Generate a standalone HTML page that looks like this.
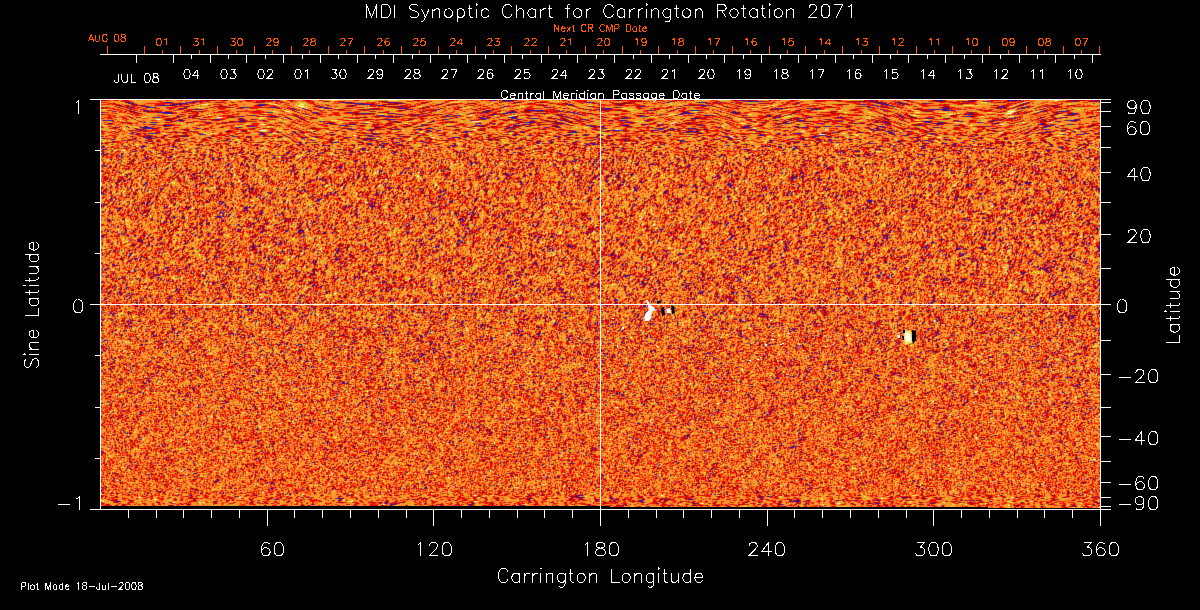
<!DOCTYPE html>
<html><head><meta charset="utf-8"><style>
html,body{margin:0;padding:0;background:#000;font-family:"Liberation Sans",sans-serif;width:1200px;height:610px;overflow:hidden}
#plot{position:absolute;left:101px;top:100px;width:999px;height:406px;background:#e75a25}
canvas{position:absolute;left:101px;top:100px}
</style></head><body>
<div id="plot"></div>
<canvas id="cv" width="999" height="408"></canvas>
<svg width="1200" height="610" viewBox="0 0 1200 610" style="position:absolute;left:0;top:0"><g fill="#e8e060"><polygon points="903,331 911,330 913,343 905,345"/></g><g fill="#fff"><polygon points="646,300 648,300 650,305 654,307 655,310 652,312 651,318 649,321 645,321 644,317 646,313 649,310 648,306"/></g><g fill="#000"><polygon points="657,301 660,301 661,303 657,304"/></g><g fill="#000"><polygon points="661,308 664,307 665,315 662,316"/></g><g fill="#fff"><polygon points="666,309 670,308 671,313 667,313"/></g><g fill="#000"><polygon points="671,305 674,306 675,313 672,314"/></g><g fill="#fff"><polygon points="905,332 910,333 911,341 906,342"/></g><g fill="#fff"><polygon points="897,335 900,335 900,338 898,338"/></g><g fill="#000"><polygon points="912,330 916,331 916,340 913,344 912,340"/></g><g fill="#000"><polygon points="903,330 905,330 905,333 903,333"/></g><g fill="#000"><polygon points="902,336 904,336 904,340 903,340"/></g><g fill="#fff"><rect x="771" y="339" width="3" height="1"/></g><g fill="#fffff0"><rect x="780" y="344" width="2" height="1"/></g><g fill="#fffff0"><rect x="782" y="343" width="2" height="1"/></g><g fill="#fff"><rect x="765" y="344" width="2" height="2"/></g><g fill="#fff"><rect x="749" y="360" width="2" height="1"/></g><g fill="#fff"><rect x="757" y="359" width="2" height="1"/></g><g fill="#ffffa0"><rect x="772" y="333" width="2" height="1"/></g><g fill="#e0e040"><rect x="778" y="334" width="2" height="2"/></g><g fill="#fff"><rect x="770" y="320" width="2" height="1"/></g><g fill="#fff"><rect x="788" y="333" width="2" height="1"/></g><g fill="#ffffa0"><rect x="612" y="318" width="2" height="1"/></g><g fill="#fff"><rect x="622" y="327" width="2" height="2"/></g><g fill="#ffffa0"><rect x="630" y="337" width="2" height="1"/></g><g fill="#fff"><rect x="617" y="345" width="1" height="2"/></g><g fill="#e0e040"><rect x="640" y="330" width="2" height="1"/></g><g fill="#fff"><rect x="607" y="331" width="2" height="1"/></g><g shape-rendering="crispEdges"><rect x="90" y="99" width="1021" height="1" fill="#fff"/><rect x="90" y="509" width="1021" height="1" fill="#fff"/><rect x="100" y="99" width="1" height="411" fill="#fff"/><rect x="1100" y="99" width="1" height="427" fill="#fff"/><rect x="95" y="150" width="5" height="1" fill="#fff"/><rect x="95" y="202" width="5" height="1" fill="#fff"/><rect x="95" y="253" width="5" height="1" fill="#fff"/><rect x="95" y="355" width="5" height="1" fill="#fff"/><rect x="95" y="407" width="5" height="1" fill="#fff"/><rect x="95" y="458" width="5" height="1" fill="#fff"/><rect x="90" y="304" width="10" height="1" fill="#fff"/><rect x="1101" y="506" width="10" height="1" fill="#fff"/><rect x="1101" y="497" width="10" height="1" fill="#fff"/><rect x="1101" y="482" width="10" height="1" fill="#fff"/><rect x="1101" y="461" width="10" height="1" fill="#fff"/><rect x="1101" y="436" width="10" height="1" fill="#fff"/><rect x="1101" y="407" width="10" height="1" fill="#fff"/><rect x="1101" y="374" width="10" height="1" fill="#fff"/><rect x="1101" y="340" width="10" height="1" fill="#fff"/><rect x="1101" y="304" width="10" height="1" fill="#fff"/><rect x="1101" y="268" width="10" height="1" fill="#fff"/><rect x="1101" y="234" width="10" height="1" fill="#fff"/><rect x="1101" y="202" width="10" height="1" fill="#fff"/><rect x="1101" y="172" width="10" height="1" fill="#fff"/><rect x="1101" y="147" width="10" height="1" fill="#fff"/><rect x="1101" y="126" width="10" height="1" fill="#fff"/><rect x="1101" y="111" width="10" height="1" fill="#fff"/><rect x="1101" y="102" width="10" height="1" fill="#fff"/><rect x="128" y="510" width="1" height="8" fill="#fff"/><rect x="156" y="510" width="1" height="8" fill="#fff"/><rect x="183" y="510" width="1" height="8" fill="#fff"/><rect x="211" y="510" width="1" height="8" fill="#fff"/><rect x="239" y="510" width="1" height="8" fill="#fff"/><rect x="267" y="510" width="1" height="16" fill="#fff"/><rect x="294" y="510" width="1" height="8" fill="#fff"/><rect x="322" y="510" width="1" height="8" fill="#fff"/><rect x="350" y="510" width="1" height="8" fill="#fff"/><rect x="378" y="510" width="1" height="8" fill="#fff"/><rect x="406" y="510" width="1" height="8" fill="#fff"/><rect x="433" y="510" width="1" height="16" fill="#fff"/><rect x="461" y="510" width="1" height="8" fill="#fff"/><rect x="489" y="510" width="1" height="8" fill="#fff"/><rect x="517" y="510" width="1" height="8" fill="#fff"/><rect x="544" y="510" width="1" height="8" fill="#fff"/><rect x="572" y="510" width="1" height="8" fill="#fff"/><rect x="600" y="510" width="1" height="16" fill="#fff"/><rect x="628" y="510" width="1" height="8" fill="#fff"/><rect x="656" y="510" width="1" height="8" fill="#fff"/><rect x="683" y="510" width="1" height="8" fill="#fff"/><rect x="711" y="510" width="1" height="8" fill="#fff"/><rect x="739" y="510" width="1" height="8" fill="#fff"/><rect x="767" y="510" width="1" height="16" fill="#fff"/><rect x="794" y="510" width="1" height="8" fill="#fff"/><rect x="822" y="510" width="1" height="8" fill="#fff"/><rect x="850" y="510" width="1" height="8" fill="#fff"/><rect x="878" y="510" width="1" height="8" fill="#fff"/><rect x="906" y="510" width="1" height="8" fill="#fff"/><rect x="933" y="510" width="1" height="16" fill="#fff"/><rect x="961" y="510" width="1" height="8" fill="#fff"/><rect x="989" y="510" width="1" height="8" fill="#fff"/><rect x="1017" y="510" width="1" height="8" fill="#fff"/><rect x="1044" y="510" width="1" height="8" fill="#fff"/><rect x="1072" y="510" width="1" height="8" fill="#fff"/><rect x="600" y="100" width="1" height="409" fill="#fff"/><rect x="101" y="304" width="999" height="1" fill="#fff"/><rect x="100" y="54" width="1001" height="1" fill="#fff"/><rect x="136" y="55" width="1" height="8" fill="#fff"/><rect x="173" y="55" width="1" height="8" fill="#fff"/><rect x="210" y="55" width="1" height="8" fill="#fff"/><rect x="246" y="55" width="1" height="8" fill="#fff"/><rect x="283" y="55" width="1" height="8" fill="#fff"/><rect x="320" y="55" width="1" height="8" fill="#fff"/><rect x="357" y="55" width="1" height="8" fill="#fff"/><rect x="393" y="55" width="1" height="8" fill="#fff"/><rect x="430" y="55" width="1" height="8" fill="#fff"/><rect x="467" y="55" width="1" height="8" fill="#fff"/><rect x="504" y="55" width="1" height="8" fill="#fff"/><rect x="541" y="55" width="1" height="8" fill="#fff"/><rect x="577" y="55" width="1" height="8" fill="#fff"/><rect x="614" y="55" width="1" height="8" fill="#fff"/><rect x="651" y="55" width="1" height="8" fill="#fff"/><rect x="688" y="55" width="1" height="8" fill="#fff"/><rect x="724" y="55" width="1" height="8" fill="#fff"/><rect x="761" y="55" width="1" height="8" fill="#fff"/><rect x="798" y="55" width="1" height="8" fill="#fff"/><rect x="835" y="55" width="1" height="8" fill="#fff"/><rect x="872" y="55" width="1" height="8" fill="#fff"/><rect x="908" y="55" width="1" height="8" fill="#fff"/><rect x="945" y="55" width="1" height="8" fill="#fff"/><rect x="982" y="55" width="1" height="8" fill="#fff"/><rect x="1019" y="55" width="1" height="8" fill="#fff"/><rect x="1055" y="55" width="1" height="8" fill="#fff"/><rect x="1092" y="55" width="1" height="8" fill="#fff"/><rect x="191" y="55" width="1" height="4" fill="#fff"/><rect x="228" y="55" width="1" height="4" fill="#fff"/><rect x="265" y="55" width="1" height="4" fill="#fff"/><rect x="302" y="55" width="1" height="4" fill="#fff"/><rect x="338" y="55" width="1" height="4" fill="#fff"/><rect x="375" y="55" width="1" height="4" fill="#fff"/><rect x="412" y="55" width="1" height="4" fill="#fff"/><rect x="449" y="55" width="1" height="4" fill="#fff"/><rect x="485" y="55" width="1" height="4" fill="#fff"/><rect x="522" y="55" width="1" height="4" fill="#fff"/><rect x="559" y="55" width="1" height="4" fill="#fff"/><rect x="596" y="55" width="1" height="4" fill="#fff"/><rect x="633" y="55" width="1" height="4" fill="#fff"/><rect x="669" y="55" width="1" height="4" fill="#fff"/><rect x="706" y="55" width="1" height="4" fill="#fff"/><rect x="743" y="55" width="1" height="4" fill="#fff"/><rect x="780" y="55" width="1" height="4" fill="#fff"/><rect x="816" y="55" width="1" height="4" fill="#fff"/><rect x="853" y="55" width="1" height="4" fill="#fff"/><rect x="890" y="55" width="1" height="4" fill="#fff"/><rect x="927" y="55" width="1" height="4" fill="#fff"/><rect x="964" y="55" width="1" height="4" fill="#fff"/><rect x="1000" y="55" width="1" height="4" fill="#fff"/><rect x="1037" y="55" width="1" height="4" fill="#fff"/><rect x="1074" y="55" width="1" height="4" fill="#fff"/><rect x="107" y="46" width="1" height="8" fill="#ff5500"/><rect x="144" y="46" width="1" height="8" fill="#ff5500"/><rect x="180" y="46" width="1" height="8" fill="#ff5500"/><rect x="217" y="46" width="1" height="8" fill="#ff5500"/><rect x="254" y="46" width="1" height="8" fill="#ff5500"/><rect x="291" y="46" width="1" height="8" fill="#ff5500"/><rect x="328" y="46" width="1" height="8" fill="#ff5500"/><rect x="364" y="46" width="1" height="8" fill="#ff5500"/><rect x="401" y="46" width="1" height="8" fill="#ff5500"/><rect x="438" y="46" width="1" height="8" fill="#ff5500"/><rect x="475" y="46" width="1" height="8" fill="#ff5500"/><rect x="511" y="46" width="1" height="8" fill="#ff5500"/><rect x="548" y="46" width="1" height="8" fill="#ff5500"/><rect x="585" y="46" width="1" height="8" fill="#ff5500"/><rect x="622" y="46" width="1" height="8" fill="#ff5500"/><rect x="658" y="46" width="1" height="8" fill="#ff5500"/><rect x="695" y="46" width="1" height="8" fill="#ff5500"/><rect x="732" y="46" width="1" height="8" fill="#ff5500"/><rect x="769" y="46" width="1" height="8" fill="#ff5500"/><rect x="805" y="46" width="1" height="8" fill="#ff5500"/><rect x="842" y="46" width="1" height="8" fill="#ff5500"/><rect x="879" y="46" width="1" height="8" fill="#ff5500"/><rect x="916" y="46" width="1" height="8" fill="#ff5500"/><rect x="952" y="46" width="1" height="8" fill="#ff5500"/><rect x="989" y="46" width="1" height="8" fill="#ff5500"/><rect x="1026" y="46" width="1" height="8" fill="#ff5500"/><rect x="1063" y="46" width="1" height="8" fill="#ff5500"/><rect x="1099" y="46" width="1" height="8" fill="#ff5500"/><rect x="162" y="50" width="1" height="4" fill="#ff5500"/><rect x="199" y="50" width="1" height="4" fill="#ff5500"/><rect x="236" y="50" width="1" height="4" fill="#ff5500"/><rect x="272" y="50" width="1" height="4" fill="#ff5500"/><rect x="309" y="50" width="1" height="4" fill="#ff5500"/><rect x="346" y="50" width="1" height="4" fill="#ff5500"/><rect x="383" y="50" width="1" height="4" fill="#ff5500"/><rect x="419" y="50" width="1" height="4" fill="#ff5500"/><rect x="456" y="50" width="1" height="4" fill="#ff5500"/><rect x="493" y="50" width="1" height="4" fill="#ff5500"/><rect x="530" y="50" width="1" height="4" fill="#ff5500"/><rect x="566" y="50" width="1" height="4" fill="#ff5500"/><rect x="603" y="50" width="1" height="4" fill="#ff5500"/><rect x="640" y="50" width="1" height="4" fill="#ff5500"/><rect x="677" y="50" width="1" height="4" fill="#ff5500"/><rect x="713" y="50" width="1" height="4" fill="#ff5500"/><rect x="750" y="50" width="1" height="4" fill="#ff5500"/><rect x="787" y="50" width="1" height="4" fill="#ff5500"/><rect x="824" y="50" width="1" height="4" fill="#ff5500"/><rect x="861" y="50" width="1" height="4" fill="#ff5500"/><rect x="897" y="50" width="1" height="4" fill="#ff5500"/><rect x="934" y="50" width="1" height="4" fill="#ff5500"/><rect x="971" y="50" width="1" height="4" fill="#ff5500"/><rect x="1008" y="50" width="1" height="4" fill="#ff5500"/><rect x="1044" y="50" width="1" height="4" fill="#ff5500"/><rect x="1081" y="50" width="1" height="4" fill="#ff5500"/></g><g fill="none" stroke-width="1" shape-rendering="crispEdges"><path stroke="#fff" d="M366.50,4.50 366.50,17.50M366.50,4.50 371.57,17.50M376.63,4.50 371.57,17.50M376.63,4.50 376.63,17.50M381.70,4.50 381.70,17.50M381.70,4.50 386.13,4.50 388.03,5.12 389.29,6.36 389.93,7.60 390.56,9.45 390.56,12.55 389.93,14.40 389.29,15.64 388.03,16.88 386.13,17.50 381.70,17.50M394.99,4.50 394.99,17.50M418.42,6.36 417.15,5.12 415.25,4.50 412.72,4.50 410.82,5.12 409.55,6.36 409.55,7.60 410.19,8.83 410.82,9.45 412.09,10.07 415.89,11.31 417.15,11.93 417.79,12.55 418.42,13.79 418.42,15.64 417.15,16.88 415.25,17.50 412.72,17.50 410.82,16.88 409.55,15.64M421.58,8.83 425.38,17.50M429.18,8.83 425.38,17.50 424.12,19.98 422.85,21.21 421.58,21.83 420.95,21.83M432.98,8.83 432.98,17.50M432.98,11.31 434.88,9.45 436.15,8.83 438.05,8.83 439.31,9.45 439.95,11.31 439.95,17.50M447.54,8.83 446.28,9.45 445.01,10.69 444.38,12.55 444.38,13.79 445.01,15.64 446.28,16.88 447.54,17.50 449.44,17.50 450.71,16.88 451.98,15.64 452.61,13.79 452.61,12.55 451.98,10.69 450.71,9.45 449.44,8.83 447.54,8.83M457.04,8.83 457.04,21.83M457.04,10.69 458.31,9.45 459.57,8.83 461.47,8.83 462.74,9.45 464.01,10.69 464.64,12.55 464.64,13.79 464.01,15.64 462.74,16.88 461.47,17.50 459.57,17.50 458.31,16.88 457.04,15.64M469.70,4.50 469.70,15.02 470.34,16.88 471.60,17.50 472.87,17.50M467.81,8.83 472.24,8.83M476.04,4.50 476.67,5.12 477.30,4.50 476.67,3.88 476.04,4.50M476.67,8.83 476.67,17.50M488.70,10.69 487.43,9.45 486.17,8.83 484.27,8.83 483.00,9.45 481.73,10.69 481.10,12.55 481.10,13.79 481.73,15.64 483.00,16.88 484.27,17.50 486.17,17.50 487.43,16.88 488.70,15.64M512.13,7.60 511.49,6.36 510.23,5.12 508.96,4.50 506.43,4.50 505.16,5.12 503.90,6.36 503.26,7.60 502.63,9.45 502.63,12.55 503.26,14.40 503.90,15.64 505.16,16.88 506.43,17.50 508.96,17.50 510.23,16.88 511.49,15.64 512.13,14.40M516.56,4.50 516.56,17.50M516.56,11.31 518.46,9.45 519.72,8.83 521.62,8.83 522.89,9.45 523.52,11.31 523.52,17.50M535.55,8.83 535.55,17.50M535.55,10.69 534.29,9.45 533.02,8.83 531.12,8.83 529.86,9.45 528.59,10.69 527.96,12.55 527.96,13.79 528.59,15.64 529.86,16.88 531.12,17.50 533.02,17.50 534.29,16.88 535.55,15.64M540.62,8.83 540.62,17.50M540.62,12.55 541.25,10.69 542.52,9.45 543.78,8.83 545.68,8.83M549.48,4.50 549.48,15.02 550.12,16.88 551.38,17.50 552.65,17.50M547.58,8.83 552.02,8.83M570.38,4.50 569.11,4.50 567.84,5.12 567.21,6.98 567.21,17.50M565.31,8.83 569.74,8.83M576.71,8.83 575.44,9.45 574.18,10.69 573.54,12.55 573.54,13.79 574.18,15.64 575.44,16.88 576.71,17.50 578.61,17.50 579.87,16.88 581.14,15.64 581.77,13.79 581.77,12.55 581.14,10.69 579.87,9.45 578.61,8.83 576.71,8.83M586.21,8.83 586.21,17.50M586.21,12.55 586.84,10.69 588.11,9.45 589.37,8.83 591.27,8.83M613.43,7.60 612.80,6.36 611.53,5.12 610.27,4.50 607.73,4.50 606.47,5.12 605.20,6.36 604.57,7.60 603.93,9.45 603.93,12.55 604.57,14.40 605.20,15.64 606.47,16.88 607.73,17.50 610.27,17.50 611.53,16.88 612.80,15.64 613.43,14.40M624.83,8.83 624.83,17.50M624.83,10.69 623.56,9.45 622.30,8.83 620.40,8.83 619.13,9.45 617.86,10.69 617.23,12.55 617.23,13.79 617.86,15.64 619.13,16.88 620.40,17.50 622.30,17.50 623.56,16.88 624.83,15.64M629.89,8.83 629.89,17.50M629.89,12.55 630.53,10.69 631.79,9.45 633.06,8.83 634.96,8.83M638.13,8.83 638.13,17.50M638.13,12.55 638.76,10.69 640.02,9.45 641.29,8.83 643.19,8.83M645.72,4.50 646.36,5.12 646.99,4.50 646.36,3.88 645.72,4.50M646.36,8.83 646.36,17.50M651.42,8.83 651.42,17.50M651.42,11.31 653.32,9.45 654.59,8.83 656.49,8.83 657.75,9.45 658.39,11.31 658.39,17.50M670.42,8.83 670.42,18.74 669.78,20.60 669.15,21.21 667.88,21.83 665.98,21.83 664.72,21.21M670.42,10.69 669.15,9.45 667.88,8.83 665.98,8.83 664.72,9.45 663.45,10.69 662.82,12.55 662.82,13.79 663.45,15.64 664.72,16.88 665.98,17.50 667.88,17.50 669.15,16.88 670.42,15.64M676.11,4.50 676.11,15.02 676.75,16.88 678.01,17.50 679.28,17.50M674.22,8.83 678.65,8.83M685.61,8.83 684.35,9.45 683.08,10.69 682.45,12.55 682.45,13.79 683.08,15.64 684.35,16.88 685.61,17.50 687.51,17.50 688.78,16.88 690.04,15.64 690.68,13.79 690.68,12.55 690.04,10.69 688.78,9.45 687.51,8.83 685.61,8.83M695.11,8.83 695.11,17.50M695.11,11.31 697.01,9.45 698.28,8.83 700.17,8.83 701.44,9.45 702.07,11.31 702.07,17.50M717.27,4.50 717.27,17.50M717.27,4.50 722.97,4.50 724.87,5.12 725.50,5.74 726.13,6.98 726.13,8.21 725.50,9.45 724.87,10.07 722.97,10.69 717.27,10.69M721.70,10.69 726.13,17.50M733.10,8.83 731.83,9.45 730.57,10.69 729.93,12.55 729.93,13.79 730.57,15.64 731.83,16.88 733.10,17.50 735.00,17.50 736.27,16.88 737.53,15.64 738.16,13.79 738.16,12.55 737.53,10.69 736.27,9.45 735.00,8.83 733.10,8.83M743.23,4.50 743.23,15.02 743.86,16.88 745.13,17.50 746.40,17.50M741.33,8.83 745.76,8.83M757.16,8.83 757.16,17.50M757.16,10.69 755.89,9.45 754.63,8.83 752.73,8.83 751.46,9.45 750.19,10.69 749.56,12.55 749.56,13.79 750.19,15.64 751.46,16.88 752.73,17.50 754.63,17.50 755.89,16.88 757.16,15.64M762.86,4.50 762.86,15.02 763.49,16.88 764.76,17.50 766.02,17.50M760.96,8.83 765.39,8.83M769.19,4.50 769.82,5.12 770.46,4.50 769.82,3.88 769.19,4.50M769.82,8.83 769.82,17.50M777.42,8.83 776.15,9.45 774.89,10.69 774.25,12.55 774.25,13.79 774.89,15.64 776.15,16.88 777.42,17.50 779.32,17.50 780.59,16.88 781.85,15.64 782.49,13.79 782.49,12.55 781.85,10.69 780.59,9.45 779.32,8.83 777.42,8.83M786.92,8.83 786.92,17.50M786.92,11.31 788.82,9.45 790.08,8.83 791.98,8.83 793.25,9.45 793.88,11.31 793.88,17.50M809.08,7.60 809.08,6.98 809.71,5.74 810.34,5.12 811.61,4.50 814.14,4.50 815.41,5.12 816.04,5.74 816.68,6.98 816.68,8.21 816.04,9.45 814.78,11.31 808.45,17.50 817.31,17.50M824.91,4.50 823.01,5.12 821.74,6.98 821.11,10.07 821.11,11.93 821.74,15.02 823.01,16.88 824.91,17.50 826.17,17.50 828.07,16.88 829.34,15.02 829.97,11.93 829.97,10.07 829.34,6.98 828.07,5.12 826.17,4.50 824.91,4.50M842.64,4.50 836.30,17.50M833.77,4.50 842.64,4.50M848.33,6.98 849.60,6.36 851.50,4.50 851.50,17.50"/><path stroke="#fff" d="M508.00,571.83 507.37,570.50 506.10,569.17 504.84,568.50 502.30,568.50 501.03,569.17 499.77,570.50 499.13,571.83 498.50,573.83 498.50,577.17 499.13,579.17 499.77,580.50 501.03,581.83 502.30,582.50 504.84,582.50 506.10,581.83 507.37,580.50 508.00,579.17M519.41,573.17 519.41,582.50M519.41,575.17 518.14,573.83 516.87,573.17 514.97,573.17 513.70,573.83 512.44,575.17 511.80,577.17 511.80,578.50 512.44,580.50 513.70,581.83 514.97,582.50 516.87,582.50 518.14,581.83 519.41,580.50M524.48,573.17 524.48,582.50M524.48,577.17 525.11,575.17 526.38,573.83 527.64,573.17 529.54,573.17M532.71,573.17 532.71,582.50M532.71,577.17 533.34,575.17 534.61,573.83 535.88,573.17 537.78,573.17M540.31,568.50 540.95,569.17 541.58,568.50 540.95,567.83 540.31,568.50M540.95,573.17 540.95,582.50M546.02,573.17 546.02,582.50M546.02,575.83 547.92,573.83 549.18,573.17 551.08,573.17 552.35,573.83 552.98,575.83 552.98,582.50M565.02,573.17 565.02,583.83 564.39,585.83 563.75,586.50 562.49,587.17 560.59,587.17 559.32,586.50M565.02,575.17 563.75,573.83 562.49,573.17 560.59,573.17 559.32,573.83 558.05,575.17 557.42,577.17 557.42,578.50 558.05,580.50 559.32,581.83 560.59,582.50 562.49,582.50 563.75,581.83 565.02,580.50M570.72,568.50 570.72,579.83 571.36,581.83 572.62,582.50 573.89,582.50M568.82,573.17 573.26,573.17M580.23,573.17 578.96,573.83 577.69,575.17 577.06,577.17 577.06,578.50 577.69,580.50 578.96,581.83 580.23,582.50 582.13,582.50 583.39,581.83 584.66,580.50 585.30,578.50 585.30,577.17 584.66,575.17 583.39,573.83 582.13,573.17 580.23,573.17M589.73,573.17 589.73,582.50M589.73,575.83 591.63,573.83 592.90,573.17 594.80,573.17 596.07,573.83 596.70,575.83 596.70,582.50M611.90,568.50 611.90,582.50M611.90,582.50 619.51,582.50M625.21,573.17 623.94,573.83 622.67,575.17 622.04,577.17 622.04,578.50 622.67,580.50 623.94,581.83 625.21,582.50 627.11,582.50 628.38,581.83 629.64,580.50 630.28,578.50 630.28,577.17 629.64,575.17 628.38,573.83 627.11,573.17 625.21,573.17M634.71,573.17 634.71,582.50M634.71,575.83 636.61,573.83 637.88,573.17 639.78,573.17 641.05,573.83 641.68,575.83 641.68,582.50M653.72,573.17 653.72,583.83 653.08,585.83 652.45,586.50 651.18,587.17 649.28,587.17 648.02,586.50M653.72,575.17 652.45,573.83 651.18,573.17 649.28,573.17 648.02,573.83 646.75,575.17 646.11,577.17 646.11,578.50 646.75,580.50 648.02,581.83 649.28,582.50 651.18,582.50 652.45,581.83 653.72,580.50M658.15,568.50 658.79,569.17 659.42,568.50 658.79,567.83 658.15,568.50M658.79,573.17 658.79,582.50M664.49,568.50 664.49,579.83 665.12,581.83 666.39,582.50 667.66,582.50M662.59,573.17 667.02,573.17M671.46,573.17 671.46,579.83 672.09,581.83 673.36,582.50 675.26,582.50 676.52,581.83 678.43,579.83M678.43,573.17 678.43,582.50M690.46,568.50 690.46,582.50M690.46,575.17 689.20,573.83 687.93,573.17 686.03,573.17 684.76,573.83 683.49,575.17 682.86,577.17 682.86,578.50 683.49,580.50 684.76,581.83 686.03,582.50 687.93,582.50 689.20,581.83 690.46,580.50M694.90,577.17 702.50,577.17 702.50,575.83 701.87,574.50 701.23,573.83 699.97,573.17 698.07,573.17 696.80,573.83 695.53,575.17 694.90,577.17 694.90,578.50 695.53,580.50 696.80,581.83 698.07,582.50 699.97,582.50 701.23,581.83 702.50,580.50"/><path stroke="#fff" d="M26.50,358.71 25.17,359.96 24.50,361.85 24.50,364.36 25.17,366.24 26.50,367.50 27.83,367.50 29.17,366.87 29.83,366.24 30.50,364.99 31.83,361.22 32.50,359.96 33.17,359.33 34.50,358.71 36.50,358.71 37.83,359.96 38.50,361.85 38.50,364.36 37.83,366.24 36.50,367.50M24.50,354.94 25.17,354.31 24.50,353.68 23.83,354.31 24.50,354.94M29.17,354.31 38.50,354.31M29.17,349.28 38.50,349.28M31.83,349.28 29.83,347.40 29.17,346.14 29.17,344.26 29.83,343.00 31.83,342.37 38.50,342.37M33.17,337.98 33.17,330.44 31.83,330.44 30.50,331.07 29.83,331.70 29.17,332.95 29.17,334.84 29.83,336.09 31.17,337.35 33.17,337.98 34.50,337.98 36.50,337.35 37.83,336.09 38.50,334.84 38.50,332.95 37.83,331.70 36.50,330.44M24.50,315.99 38.50,315.99M38.50,315.99 38.50,308.45M29.17,298.40 38.50,298.40M31.17,298.40 29.83,299.66 29.17,300.92 29.17,302.80 29.83,304.06 31.17,305.31 33.17,305.94 34.50,305.94 36.50,305.31 37.83,304.06 38.50,302.80 38.50,300.92 37.83,299.66 36.50,298.40M24.50,292.75 35.83,292.75 37.83,292.12 38.50,290.87 38.50,289.61M29.17,294.64 29.17,290.24M24.50,286.47 25.17,285.84 24.50,285.21 23.83,285.84 24.50,286.47M29.17,285.84 38.50,285.84M24.50,280.19 35.83,280.19 37.83,279.56 38.50,278.30 38.50,277.05M29.17,282.07 29.17,277.68M29.17,273.28 35.83,273.28 37.83,272.65 38.50,271.39 38.50,269.51 37.83,268.25 35.83,266.37M29.17,266.37 38.50,266.37M24.50,254.43 38.50,254.43M31.17,254.43 29.83,255.69 29.17,256.95 29.17,258.83 29.83,260.09 31.17,261.34 33.17,261.97 34.50,261.97 36.50,261.34 37.83,260.09 38.50,258.83 38.50,256.95 37.83,255.69 36.50,254.43M33.17,250.04 33.17,242.50 31.83,242.50 30.50,243.13 29.83,243.76 29.17,245.01 29.17,246.90 29.83,248.15 31.17,249.41 33.17,250.04 34.50,250.04 36.50,249.41 37.83,248.15 38.50,246.90 38.50,245.01 37.83,243.76 36.50,242.50"/><path stroke="#fff" d="M1165.50,342.50 1179.50,342.50M1179.50,342.50 1179.50,334.81M1170.17,324.55 1179.50,324.55M1172.17,324.55 1170.83,325.83 1170.17,327.12 1170.17,329.04 1170.83,330.32 1172.17,331.60 1174.17,332.24 1175.50,332.24 1177.50,331.60 1178.83,330.32 1179.50,329.04 1179.50,327.12 1178.83,325.83 1177.50,324.55M1165.50,318.78 1176.83,318.78 1178.83,318.14 1179.50,316.86 1179.50,315.58M1170.17,320.71 1170.17,316.22M1165.50,312.37 1166.17,311.73 1165.50,311.09 1164.83,311.73 1165.50,312.37M1170.17,311.73 1179.50,311.73M1165.50,305.96 1176.83,305.96 1178.83,305.32 1179.50,304.04 1179.50,302.76M1170.17,307.88 1170.17,303.40M1170.17,298.91 1176.83,298.91 1178.83,298.27 1179.50,296.99 1179.50,295.06 1178.83,293.78 1176.83,291.86M1170.17,291.86 1179.50,291.86M1165.50,279.68 1179.50,279.68M1172.17,279.68 1170.83,280.96 1170.17,282.24 1170.17,284.17 1170.83,285.45 1172.17,286.73 1174.17,287.37 1175.50,287.37 1177.50,286.73 1178.83,285.45 1179.50,284.17 1179.50,282.24 1178.83,280.96 1177.50,279.68M1174.17,275.19 1174.17,267.50 1172.83,267.50 1171.50,268.14 1170.83,268.78 1170.17,270.06 1170.17,271.99 1170.83,273.27 1172.17,274.55 1174.17,275.19 1175.50,275.19 1177.50,274.55 1178.83,273.27 1179.50,271.99 1179.50,270.06 1178.83,268.78 1177.50,267.50"/><path stroke="#fff" d="M75.50,103.06 76.83,102.42 78.84,100.50 78.84,113.94"/><path stroke="#fff" d="M77.50,299.50 75.50,300.14 74.17,302.06 73.50,305.26 73.50,307.18 74.17,310.38 75.50,312.30 77.50,312.94 78.84,312.94 80.84,312.30 82.17,310.38 82.84,307.18 82.84,305.26 82.17,302.06 80.84,300.14 78.84,299.50 77.50,299.50"/><path stroke="#fff" d="M57.50,504.18 69.51,504.18M76.18,499.06 77.51,498.42 79.51,496.50 79.51,509.94"/><path stroke="#fff" d="M1136.17,104.98 1135.50,106.90 1134.17,108.18 1132.17,108.82 1131.50,108.82 1129.50,108.18 1128.17,106.90 1127.50,104.98 1127.50,104.34 1128.17,102.42 1129.50,101.14 1131.50,100.50 1132.17,100.50 1134.17,101.14 1135.50,102.42 1136.17,104.98 1136.17,108.18 1135.50,111.38 1134.17,113.30 1132.17,113.94 1130.84,113.94 1128.83,113.30 1128.17,112.02M1144.84,100.50 1142.84,101.14 1141.51,103.06 1140.84,106.26 1140.84,108.18 1141.51,111.38 1142.84,113.30 1144.84,113.94 1146.18,113.94 1148.18,113.30 1149.51,111.38 1150.18,108.18 1150.18,106.26 1149.51,103.06 1148.18,101.14 1146.18,100.50 1144.84,100.50"/><path stroke="#fff" d="M1135.50,123.42 1134.84,122.14 1132.84,121.50 1131.50,121.50 1129.50,122.14 1128.17,124.06 1127.50,127.26 1127.50,130.46 1128.17,133.02 1129.50,134.30 1131.50,134.94 1132.17,134.94 1134.17,134.30 1135.50,133.02 1136.17,131.10 1136.17,130.46 1135.50,128.54 1134.17,127.26 1132.17,126.62 1131.50,126.62 1129.50,127.26 1128.17,128.54 1127.50,130.46M1144.18,121.50 1142.17,122.14 1140.84,124.06 1140.17,127.26 1140.17,129.18 1140.84,132.38 1142.17,134.30 1144.18,134.94 1145.51,134.94 1147.51,134.30 1148.84,132.38 1149.51,129.18 1149.51,127.26 1148.84,124.06 1147.51,122.14 1145.51,121.50 1144.18,121.50"/><path stroke="#fff" d="M1134.17,167.50 1127.50,176.46 1137.51,176.46M1134.17,167.50 1134.17,180.94M1144.84,167.50 1142.84,168.14 1141.51,170.06 1140.84,173.26 1140.84,175.18 1141.51,178.38 1142.84,180.30 1144.84,180.94 1146.18,180.94 1148.18,180.30 1149.51,178.38 1150.18,175.18 1150.18,173.26 1149.51,170.06 1148.18,168.14 1146.18,167.50 1144.84,167.50"/><path stroke="#fff" d="M1128.17,232.70 1128.17,232.06 1128.83,230.78 1129.50,230.14 1130.84,229.50 1133.50,229.50 1134.84,230.14 1135.50,230.78 1136.17,232.06 1136.17,233.34 1135.50,234.62 1134.17,236.54 1127.50,242.94 1136.84,242.94M1144.84,229.50 1142.84,230.14 1141.51,232.06 1140.84,235.26 1140.84,237.18 1141.51,240.38 1142.84,242.30 1144.84,242.94 1146.18,242.94 1148.18,242.30 1149.51,240.38 1150.18,237.18 1150.18,235.26 1149.51,232.06 1148.18,230.14 1146.18,229.50 1144.84,229.50"/><path stroke="#fff" d="M1121.50,299.50 1119.50,300.14 1118.17,302.06 1117.50,305.26 1117.50,307.18 1118.17,310.38 1119.50,312.30 1121.50,312.94 1122.84,312.94 1124.84,312.30 1126.17,310.38 1126.84,307.18 1126.84,305.26 1126.17,302.06 1124.84,300.14 1122.84,299.50 1121.50,299.50"/><path stroke="#fff" d="M1118.50,377.18 1130.51,377.18M1135.84,372.70 1135.84,372.06 1136.51,370.78 1137.18,370.14 1138.51,369.50 1141.18,369.50 1142.51,370.14 1143.18,370.78 1143.85,372.06 1143.85,373.34 1143.18,374.62 1141.85,376.54 1135.18,382.94 1144.51,382.94M1152.52,369.50 1150.52,370.14 1149.18,372.06 1148.52,375.26 1148.52,377.18 1149.18,380.38 1150.52,382.30 1152.52,382.94 1153.85,382.94 1155.85,382.30 1157.19,380.38 1157.85,377.18 1157.85,375.26 1157.19,372.06 1155.85,370.14 1153.85,369.50 1152.52,369.50"/><path stroke="#fff" d="M1118.50,439.18 1130.51,439.18M1141.85,431.50 1135.18,440.46 1145.18,440.46M1141.85,431.50 1141.85,444.94M1152.52,431.50 1150.52,432.14 1149.18,434.06 1148.52,437.26 1148.52,439.18 1149.18,442.38 1150.52,444.30 1152.52,444.94 1153.85,444.94 1155.85,444.30 1157.19,442.38 1157.85,439.18 1157.85,437.26 1157.19,434.06 1155.85,432.14 1153.85,431.50 1152.52,431.50"/><path stroke="#fff" d="M1118.50,484.18 1130.51,484.18M1143.85,478.42 1143.18,477.14 1141.18,476.50 1139.84,476.50 1137.84,477.14 1136.51,479.06 1135.84,482.26 1135.84,485.46 1136.51,488.02 1137.84,489.30 1139.84,489.94 1140.51,489.94 1142.51,489.30 1143.85,488.02 1144.51,486.10 1144.51,485.46 1143.85,483.54 1142.51,482.26 1140.51,481.62 1139.84,481.62 1137.84,482.26 1136.51,483.54 1135.84,485.46M1152.52,476.50 1150.52,477.14 1149.18,479.06 1148.52,482.26 1148.52,484.18 1149.18,487.38 1150.52,489.30 1152.52,489.94 1153.85,489.94 1155.85,489.30 1157.19,487.38 1157.85,484.18 1157.85,482.26 1157.19,479.06 1155.85,477.14 1153.85,476.50 1152.52,476.50"/><path stroke="#fff" d="M1118.50,504.18 1130.51,504.18M1143.85,500.98 1143.18,502.90 1141.85,504.18 1139.84,504.82 1139.18,504.82 1137.18,504.18 1135.84,502.90 1135.18,500.98 1135.18,500.34 1135.84,498.42 1137.18,497.14 1139.18,496.50 1139.84,496.50 1141.85,497.14 1143.18,498.42 1143.85,500.98 1143.85,504.18 1143.18,507.38 1141.85,509.30 1139.84,509.94 1138.51,509.94 1136.51,509.30 1135.84,508.02M1152.52,496.50 1150.52,497.14 1149.18,499.06 1148.52,502.26 1148.52,504.18 1149.18,507.38 1150.52,509.30 1152.52,509.94 1153.85,509.94 1155.85,509.30 1157.19,507.38 1157.85,504.18 1157.85,502.26 1157.19,499.06 1155.85,497.14 1153.85,496.50 1152.52,496.50"/><path stroke="#fff" d="M269.50,544.42 268.84,543.14 266.84,542.50 265.50,542.50 263.50,543.14 262.17,545.06 261.50,548.26 261.50,551.46 262.17,554.02 263.50,555.30 265.50,555.94 266.17,555.94 268.17,555.30 269.50,554.02 270.17,552.10 270.17,551.46 269.50,549.54 268.17,548.26 266.17,547.62 265.50,547.62 263.50,548.26 262.17,549.54 261.50,551.46M278.18,542.50 276.17,543.14 274.84,545.06 274.17,548.26 274.17,550.18 274.84,553.38 276.17,555.30 278.18,555.94 279.51,555.94 281.51,555.30 282.84,553.38 283.51,550.18 283.51,548.26 282.84,545.06 281.51,543.14 279.51,542.50 278.18,542.50"/><path stroke="#fff" d="M417.50,545.06 418.83,544.42 420.83,542.50 420.83,555.94M429.51,545.70 429.51,545.06 430.17,543.78 430.84,543.14 432.17,542.50 434.84,542.50 436.18,543.14 436.84,543.78 437.51,545.06 437.51,546.34 436.84,547.62 435.51,549.54 428.84,555.94 438.18,555.94M446.18,542.50 444.18,543.14 442.85,545.06 442.18,548.26 442.18,550.18 442.85,553.38 444.18,555.30 446.18,555.94 447.51,555.94 449.52,555.30 450.85,553.38 451.52,550.18 451.52,548.26 450.85,545.06 449.52,543.14 447.51,542.50 446.18,542.50"/><path stroke="#fff" d="M584.50,545.06 585.83,544.42 587.84,542.50 587.84,555.94M599.17,542.50 597.17,543.14 596.51,544.42 596.51,545.70 597.17,546.98 598.51,547.62 601.18,548.26 603.18,548.90 604.51,550.18 605.18,551.46 605.18,553.38 604.51,554.66 603.84,555.30 601.84,555.94 599.17,555.94 597.17,555.30 596.51,554.66 595.84,553.38 595.84,551.46 596.51,550.18 597.84,548.90 599.84,548.26 602.51,547.62 603.84,546.98 604.51,545.70 604.51,544.42 603.84,543.14 601.84,542.50 599.17,542.50M613.18,542.50 611.18,543.14 609.85,545.06 609.18,548.26 609.18,550.18 609.85,553.38 611.18,555.30 613.18,555.94 614.52,555.94 616.52,555.30 617.85,553.38 618.52,550.18 618.52,548.26 617.85,545.06 616.52,543.14 614.52,542.50 613.18,542.50"/><path stroke="#fff" d="M749.17,545.70 749.17,545.06 749.83,543.78 750.50,543.14 751.84,542.50 754.50,542.50 755.84,543.14 756.50,543.78 757.17,545.06 757.17,546.34 756.50,547.62 755.17,549.54 748.50,555.94 757.84,555.94M768.51,542.50 761.84,551.46 771.85,551.46M768.51,542.50 768.51,555.94M779.18,542.50 777.18,543.14 775.85,545.06 775.18,548.26 775.18,550.18 775.85,553.38 777.18,555.30 779.18,555.94 780.52,555.94 782.52,555.30 783.85,553.38 784.52,550.18 784.52,548.26 783.85,545.06 782.52,543.14 780.52,542.50 779.18,542.50"/><path stroke="#fff" d="M916.83,542.50 924.17,542.50 920.17,547.62 922.17,547.62 923.50,548.26 924.17,548.90 924.84,550.82 924.84,552.10 924.17,554.02 922.84,555.30 920.84,555.94 918.84,555.94 916.83,555.30 916.17,554.66 915.50,553.38M932.84,542.50 930.84,543.14 929.51,545.06 928.84,548.26 928.84,550.18 929.51,553.38 930.84,555.30 932.84,555.94 934.18,555.94 936.18,555.30 937.51,553.38 938.18,550.18 938.18,548.26 937.51,545.06 936.18,543.14 934.18,542.50 932.84,542.50M946.18,542.50 944.18,543.14 942.85,545.06 942.18,548.26 942.18,550.18 942.85,553.38 944.18,555.30 946.18,555.94 947.52,555.94 949.52,555.30 950.85,553.38 951.52,550.18 951.52,548.26 950.85,545.06 949.52,543.14 947.52,542.50 946.18,542.50"/><path stroke="#fff" d="M1083.83,542.50 1091.17,542.50 1087.17,547.62 1089.17,547.62 1090.50,548.26 1091.17,548.90 1091.84,550.82 1091.84,552.10 1091.17,554.02 1089.84,555.30 1087.84,555.94 1085.84,555.94 1083.83,555.30 1083.17,554.66 1082.50,553.38M1104.51,544.42 1103.84,543.14 1101.84,542.50 1100.51,542.50 1098.51,543.14 1097.17,545.06 1096.51,548.26 1096.51,551.46 1097.17,554.02 1098.51,555.30 1100.51,555.94 1101.18,555.94 1103.18,555.30 1104.51,554.02 1105.18,552.10 1105.18,551.46 1104.51,549.54 1103.18,548.26 1101.18,547.62 1100.51,547.62 1098.51,548.26 1097.17,549.54 1096.51,551.46M1113.18,542.50 1111.18,543.14 1109.85,545.06 1109.18,548.26 1109.18,550.18 1109.85,553.38 1111.18,555.30 1113.18,555.94 1114.52,555.94 1116.52,555.30 1117.85,553.38 1118.52,550.18 1118.52,548.26 1117.85,545.06 1116.52,543.14 1114.52,542.50 1113.18,542.50"/><path stroke="#fff" d="M507.69,92.40 507.27,91.64 506.45,90.88 505.62,90.50 503.97,90.50 503.15,90.88 502.32,91.64 501.91,92.40 501.50,93.55 501.50,95.45 501.91,96.60 502.32,97.36 503.15,98.12 503.97,98.50 505.62,98.50 506.45,98.12 507.27,97.36 507.69,96.60M510.16,95.45 515.11,95.45 515.11,94.69 514.70,93.93 514.29,93.55 513.46,93.17 512.23,93.17 511.40,93.55 510.57,94.31 510.16,95.45 510.16,96.21 510.57,97.36 511.40,98.12 512.23,98.50 513.46,98.50 514.29,98.12 515.11,97.36M518.00,93.17 518.00,98.50M518.00,94.69 519.24,93.55 520.06,93.17 521.30,93.17 522.12,93.55 522.54,94.69 522.54,98.50M526.25,90.50 526.25,96.98 526.66,98.12 527.49,98.50 528.31,98.50M525.01,93.17 527.90,93.17M530.79,93.17 530.79,98.50M530.79,95.45 531.20,94.31 532.02,93.55 532.85,93.17 534.09,93.17M540.69,93.17 540.69,98.50M540.69,94.31 539.86,93.55 539.04,93.17 537.80,93.17 536.98,93.55 536.15,94.31 535.74,95.45 535.74,96.21 536.15,97.36 536.98,98.12 537.80,98.50 539.04,98.50 539.86,98.12 540.69,97.36M543.99,90.50 543.99,98.50M553.89,90.50 553.89,98.50M553.89,90.50 557.19,98.50M560.49,90.50 557.19,98.50M560.49,90.50 560.49,98.50M563.38,95.45 568.33,95.45 568.33,94.69 567.91,93.93 567.50,93.55 566.67,93.17 565.44,93.17 564.61,93.55 563.79,94.31 563.38,95.45 563.38,96.21 563.79,97.36 564.61,98.12 565.44,98.50 566.67,98.50 567.50,98.12 568.33,97.36M571.21,93.17 571.21,98.50M571.21,95.45 571.62,94.31 572.45,93.55 573.27,93.17 574.51,93.17M576.16,90.50 576.58,90.88 576.99,90.50 576.58,90.12 576.16,90.50M576.58,93.17 576.58,98.50M584.41,90.50 584.41,98.50M584.41,94.31 583.59,93.55 582.76,93.17 581.52,93.17 580.70,93.55 579.88,94.31 579.46,95.45 579.46,96.21 579.88,97.36 580.70,98.12 581.52,98.50 582.76,98.50 583.59,98.12 584.41,97.36M587.30,90.50 587.71,90.88 588.12,90.50 587.71,90.12 587.30,90.50M587.71,93.17 587.71,98.50M595.55,93.17 595.55,98.50M595.55,94.31 594.73,93.55 593.90,93.17 592.66,93.17 591.84,93.55 591.01,94.31 590.60,95.45 590.60,96.21 591.01,97.36 591.84,98.12 592.66,98.50 593.90,98.50 594.73,98.12 595.55,97.36M598.85,93.17 598.85,98.50M598.85,94.69 600.09,93.55 600.91,93.17 602.15,93.17 602.98,93.55 603.39,94.69 603.39,98.50M613.29,90.50 613.29,98.50M613.29,90.50 617.00,90.50 618.24,90.88 618.65,91.26 619.06,92.02 619.06,93.17 618.65,93.93 618.24,94.31 617.00,94.69 613.29,94.69M626.49,93.17 626.49,98.50M626.49,94.31 625.66,93.55 624.84,93.17 623.60,93.17 622.77,93.55 621.95,94.31 621.54,95.45 621.54,96.21 621.95,97.36 622.77,98.12 623.60,98.50 624.84,98.50 625.66,98.12 626.49,97.36M633.91,94.31 633.50,93.55 632.26,93.17 631.02,93.17 629.79,93.55 629.38,94.31 629.79,95.07 630.61,95.45 632.67,95.83 633.50,96.21 633.91,96.98 633.91,97.36 633.50,98.12 632.26,98.50 631.02,98.50 629.79,98.12 629.38,97.36M640.92,94.31 640.51,93.55 639.27,93.17 638.04,93.17 636.80,93.55 636.39,94.31 636.80,95.07 637.62,95.45 639.69,95.83 640.51,96.21 640.92,96.98 640.92,97.36 640.51,98.12 639.27,98.50 638.04,98.50 636.80,98.12 636.39,97.36M648.35,93.17 648.35,98.50M648.35,94.31 647.52,93.55 646.70,93.17 645.46,93.17 644.64,93.55 643.81,94.31 643.40,95.45 643.40,96.21 643.81,97.36 644.64,98.12 645.46,98.50 646.70,98.50 647.52,98.12 648.35,97.36M656.19,93.17 656.19,99.26 655.77,100.40 655.36,100.79 654.54,101.17 653.30,101.17 652.48,100.79M656.19,94.31 655.36,93.55 654.54,93.17 653.30,93.17 652.48,93.55 651.65,94.31 651.24,95.45 651.24,96.21 651.65,97.36 652.48,98.12 653.30,98.50 654.54,98.50 655.36,98.12 656.19,97.36M659.08,95.45 664.02,95.45 664.02,94.69 663.61,93.93 663.20,93.55 662.38,93.17 661.14,93.17 660.31,93.55 659.49,94.31 659.08,95.45 659.08,96.21 659.49,97.36 660.31,98.12 661.14,98.50 662.38,98.50 663.20,98.12 664.02,97.36M673.51,90.50 673.51,98.50M673.51,90.50 676.40,90.50 677.64,90.88 678.46,91.64 678.88,92.40 679.29,93.55 679.29,95.45 678.88,96.60 678.46,97.36 677.64,98.12 676.40,98.50 673.51,98.50M686.71,93.17 686.71,98.50M686.71,94.31 685.89,93.55 685.06,93.17 683.83,93.17 683.00,93.55 682.17,94.31 681.76,95.45 681.76,96.21 682.17,97.36 683.00,98.12 683.83,98.50 685.06,98.50 685.89,98.12 686.71,97.36M690.42,90.50 690.42,96.98 690.84,98.12 691.66,98.50 692.49,98.50M689.19,93.17 692.08,93.17M694.55,95.45 699.50,95.45 699.50,94.69 699.09,93.93 698.67,93.55 697.85,93.17 696.61,93.17 695.79,93.55 694.96,94.31 694.55,95.45 694.55,96.21 694.96,97.36 695.79,98.12 696.61,98.50 697.85,98.50 698.67,98.12 699.50,97.36"/><path stroke="#fff" d="M118.65,73.50 118.65,80.36 118.24,81.64 117.82,82.07 116.99,82.50 116.16,82.50 115.33,82.07 114.92,81.64 114.50,80.36 114.50,79.50M121.97,73.50 121.97,79.93 122.39,81.21 123.22,82.07 124.46,82.50 125.29,82.50 126.54,82.07 127.37,81.21 127.78,79.93 127.78,73.50M131.10,73.50 131.10,82.50M131.10,82.50 136.08,82.50M146.88,73.50 145.63,73.93 144.80,75.21 144.39,77.36 144.39,78.64 144.80,80.79 145.63,82.07 146.88,82.50 147.71,82.50 148.95,82.07 149.78,80.79 150.20,78.64 150.20,77.36 149.78,75.21 148.95,73.93 147.71,73.50 146.88,73.50M154.76,73.50 153.52,73.93 153.10,74.79 153.10,75.64 153.52,76.50 154.35,76.93 156.01,77.36 157.25,77.79 158.08,78.64 158.50,79.50 158.50,80.79 158.08,81.64 157.67,82.07 156.42,82.50 154.76,82.50 153.52,82.07 153.10,81.64 152.69,80.79 152.69,79.50 153.10,78.64 153.93,77.79 155.18,77.36 156.84,76.93 157.67,76.50 158.08,75.64 158.08,74.79 157.67,73.93 156.42,73.50 154.76,73.50"/><path stroke="#fff" d="M186.62,69.50 185.28,69.93 184.40,71.22 183.95,73.37 183.95,74.66 184.40,76.81 185.28,78.10 186.62,78.53 187.50,78.53 188.84,78.10 189.72,76.81 190.17,74.66 190.17,73.37 189.72,71.22 188.84,69.93 187.50,69.50 186.62,69.50M197.27,69.50 192.83,75.52 199.49,75.52M197.27,69.50 197.27,78.53"/><path stroke="#fff" d="M223.62,69.50 222.28,69.93 221.40,71.22 220.95,73.37 220.95,74.66 221.40,76.81 222.28,78.10 223.62,78.53 224.50,78.53 225.84,78.10 226.72,76.81 227.17,74.66 227.17,73.37 226.72,71.22 225.84,69.93 224.50,69.50 223.62,69.50M230.72,69.50 235.60,69.50 232.94,72.94 234.27,72.94 235.16,73.37 235.60,73.80 236.05,75.09 236.05,75.95 235.60,77.24 234.72,78.10 233.38,78.53 232.05,78.53 230.72,78.10 230.28,77.67 229.83,76.81"/><path stroke="#fff" d="M260.62,69.50 259.28,69.93 258.40,71.22 257.95,73.37 257.95,74.66 258.40,76.81 259.28,78.10 260.62,78.53 261.50,78.53 262.84,78.10 263.72,76.81 264.17,74.66 264.17,73.37 263.72,71.22 262.84,69.93 261.50,69.50 260.62,69.50M267.28,71.65 267.28,71.22 267.72,70.36 268.16,69.93 269.05,69.50 270.83,69.50 271.72,69.93 272.16,70.36 272.60,71.22 272.60,72.08 272.16,72.94 271.27,74.23 266.83,78.53 273.05,78.53"/><path stroke="#fff" d="M297.62,69.50 296.28,69.93 295.40,71.22 294.95,73.37 294.95,74.66 295.40,76.81 296.28,78.10 297.62,78.53 298.50,78.53 299.84,78.10 300.72,76.81 301.17,74.66 301.17,73.37 300.72,71.22 299.84,69.93 298.50,69.50 297.62,69.50M305.16,71.22 306.05,70.79 307.38,69.50 307.38,78.53"/><path stroke="#fff" d="M331.84,69.50 336.72,69.50 334.06,72.94 335.39,72.94 336.28,73.37 336.72,73.80 337.17,75.09 337.17,75.95 336.72,77.24 335.84,78.10 334.50,78.53 333.17,78.53 331.84,78.10 331.40,77.67 330.95,76.81M342.50,69.50 341.16,69.93 340.28,71.22 339.83,73.37 339.83,74.66 340.28,76.81 341.16,78.10 342.50,78.53 343.38,78.53 344.72,78.10 345.60,76.81 346.05,74.66 346.05,73.37 345.60,71.22 344.72,69.93 343.38,69.50 342.50,69.50"/><path stroke="#fff" d="M368.40,71.65 368.40,71.22 368.84,70.36 369.28,69.93 370.17,69.50 371.95,69.50 372.84,69.93 373.28,70.36 373.72,71.22 373.72,72.08 373.28,72.94 372.39,74.23 367.95,78.53 374.17,78.53M382.60,72.51 382.16,73.80 381.27,74.66 379.94,75.09 379.50,75.09 378.16,74.66 377.28,73.80 376.83,72.51 376.83,72.08 377.28,70.79 378.16,69.93 379.50,69.50 379.94,69.50 381.27,69.93 382.16,70.79 382.60,72.51 382.60,74.66 382.16,76.81 381.27,78.10 379.94,78.53 379.05,78.53 377.72,78.10 377.28,77.24"/><path stroke="#fff" d="M405.40,71.65 405.40,71.22 405.84,70.36 406.28,69.93 407.17,69.50 408.95,69.50 409.84,69.93 410.28,70.36 410.72,71.22 410.72,72.08 410.28,72.94 409.39,74.23 404.95,78.53 411.17,78.53M416.05,69.50 414.72,69.93 414.28,70.79 414.28,71.65 414.72,72.51 415.61,72.94 417.38,73.37 418.72,73.80 419.60,74.66 420.05,75.52 420.05,76.81 419.60,77.67 419.16,78.10 417.83,78.53 416.05,78.53 414.72,78.10 414.28,77.67 413.83,76.81 413.83,75.52 414.28,74.66 415.16,73.80 416.50,73.37 418.27,72.94 419.16,72.51 419.60,71.65 419.60,70.79 419.16,69.93 417.83,69.50 416.05,69.50"/><path stroke="#fff" d="M442.40,71.65 442.40,71.22 442.84,70.36 443.28,69.93 444.17,69.50 445.95,69.50 446.84,69.93 447.28,70.36 447.72,71.22 447.72,72.08 447.28,72.94 446.39,74.23 441.95,78.53 448.17,78.53M457.05,69.50 452.61,78.53M450.83,69.50 457.05,69.50"/><path stroke="#fff" d="M478.40,71.65 478.40,71.22 478.84,70.36 479.28,69.93 480.17,69.50 481.95,69.50 482.84,69.93 483.28,70.36 483.72,71.22 483.72,72.08 483.28,72.94 482.39,74.23 477.95,78.53 484.17,78.53M492.60,70.79 492.16,69.93 490.83,69.50 489.94,69.50 488.61,69.93 487.72,71.22 487.28,73.37 487.28,75.52 487.72,77.24 488.61,78.10 489.94,78.53 490.38,78.53 491.72,78.10 492.60,77.24 493.05,75.95 493.05,75.52 492.60,74.23 491.72,73.37 490.38,72.94 489.94,72.94 488.61,73.37 487.72,74.23 487.28,75.52"/><path stroke="#fff" d="M515.40,71.65 515.40,71.22 515.84,70.36 516.28,69.93 517.17,69.50 518.95,69.50 519.84,69.93 520.28,70.36 520.72,71.22 520.72,72.08 520.28,72.94 519.39,74.23 514.95,78.53 521.17,78.53M529.16,69.50 524.72,69.50 524.28,73.37 524.72,72.94 526.05,72.51 527.38,72.51 528.72,72.94 529.60,73.80 530.05,75.09 530.05,75.95 529.60,77.24 528.72,78.10 527.38,78.53 526.05,78.53 524.72,78.10 524.28,77.67 523.83,76.81"/><path stroke="#fff" d="M552.40,71.65 552.40,71.22 552.84,70.36 553.28,69.93 554.17,69.50 555.95,69.50 556.84,69.93 557.28,70.36 557.72,71.22 557.72,72.08 557.28,72.94 556.39,74.23 551.95,78.53 558.17,78.53M565.27,69.50 560.83,75.52 567.49,75.52M565.27,69.50 565.27,78.53"/><path stroke="#fff" d="M589.40,71.65 589.40,71.22 589.84,70.36 590.28,69.93 591.17,69.50 592.95,69.50 593.84,69.93 594.28,70.36 594.72,71.22 594.72,72.08 594.28,72.94 593.39,74.23 588.95,78.53 595.17,78.53M598.72,69.50 603.60,69.50 600.94,72.94 602.27,72.94 603.16,73.37 603.60,73.80 604.05,75.09 604.05,75.95 603.60,77.24 602.72,78.10 601.38,78.53 600.05,78.53 598.72,78.10 598.28,77.67 597.83,76.81"/><path stroke="#fff" d="M626.40,71.65 626.40,71.22 626.84,70.36 627.28,69.93 628.17,69.50 629.95,69.50 630.84,69.93 631.28,70.36 631.72,71.22 631.72,72.08 631.28,72.94 630.39,74.23 625.95,78.53 632.17,78.53M635.28,71.65 635.28,71.22 635.72,70.36 636.16,69.93 637.05,69.50 638.83,69.50 639.72,69.93 640.16,70.36 640.60,71.22 640.60,72.08 640.16,72.94 639.27,74.23 634.83,78.53 641.05,78.53"/><path stroke="#fff" d="M662.40,71.65 662.40,71.22 662.84,70.36 663.28,69.93 664.17,69.50 665.95,69.50 666.84,69.93 667.28,70.36 667.72,71.22 667.72,72.08 667.28,72.94 666.39,74.23 661.95,78.53 668.17,78.53M672.16,71.22 673.05,70.79 674.38,69.50 674.38,78.53"/><path stroke="#fff" d="M699.40,71.65 699.40,71.22 699.84,70.36 700.28,69.93 701.17,69.50 702.95,69.50 703.84,69.93 704.28,70.36 704.72,71.22 704.72,72.08 704.28,72.94 703.39,74.23 698.95,78.53 705.17,78.53M710.50,69.50 709.16,69.93 708.28,71.22 707.83,73.37 707.83,74.66 708.28,76.81 709.16,78.10 710.50,78.53 711.38,78.53 712.72,78.10 713.60,76.81 714.05,74.66 714.05,73.37 713.60,71.22 712.72,69.93 711.38,69.50 710.50,69.50"/><path stroke="#fff" d="M737.28,71.22 738.17,70.79 739.50,69.50 739.50,78.53M750.60,72.51 750.16,73.80 749.27,74.66 747.94,75.09 747.50,75.09 746.16,74.66 745.28,73.80 744.83,72.51 744.83,72.08 745.28,70.79 746.16,69.93 747.50,69.50 747.94,69.50 749.27,69.93 750.16,70.79 750.60,72.51 750.60,74.66 750.16,76.81 749.27,78.10 747.94,78.53 747.05,78.53 745.72,78.10 745.28,77.24"/><path stroke="#fff" d="M774.28,71.22 775.17,70.79 776.50,69.50 776.50,78.53M784.05,69.50 782.72,69.93 782.28,70.79 782.28,71.65 782.72,72.51 783.61,72.94 785.38,73.37 786.72,73.80 787.60,74.66 788.05,75.52 788.05,76.81 787.60,77.67 787.16,78.10 785.83,78.53 784.05,78.53 782.72,78.10 782.28,77.67 781.83,76.81 781.83,75.52 782.28,74.66 783.16,73.80 784.50,73.37 786.27,72.94 787.16,72.51 787.60,71.65 787.60,70.79 787.16,69.93 785.83,69.50 784.05,69.50"/><path stroke="#fff" d="M810.28,71.22 811.17,70.79 812.50,69.50 812.50,78.53M824.05,69.50 819.61,78.53M817.83,69.50 824.05,69.50"/><path stroke="#fff" d="M847.28,71.22 848.17,70.79 849.50,69.50 849.50,78.53M860.60,70.79 860.16,69.93 858.83,69.50 857.94,69.50 856.61,69.93 855.72,71.22 855.28,73.37 855.28,75.52 855.72,77.24 856.61,78.10 857.94,78.53 858.38,78.53 859.72,78.10 860.60,77.24 861.05,75.95 861.05,75.52 860.60,74.23 859.72,73.37 858.38,72.94 857.94,72.94 856.61,73.37 855.72,74.23 855.28,75.52"/><path stroke="#fff" d="M884.28,71.22 885.17,70.79 886.50,69.50 886.50,78.53M897.16,69.50 892.72,69.50 892.28,73.37 892.72,72.94 894.05,72.51 895.38,72.51 896.72,72.94 897.60,73.80 898.05,75.09 898.05,75.95 897.60,77.24 896.72,78.10 895.38,78.53 894.05,78.53 892.72,78.10 892.28,77.67 891.83,76.81"/><path stroke="#fff" d="M921.28,71.22 922.17,70.79 923.50,69.50 923.50,78.53M933.27,69.50 928.83,75.52 935.49,75.52M933.27,69.50 933.27,78.53"/><path stroke="#fff" d="M958.28,71.22 959.17,70.79 960.50,69.50 960.50,78.53M966.72,69.50 971.60,69.50 968.94,72.94 970.27,72.94 971.16,73.37 971.60,73.80 972.05,75.09 972.05,75.95 971.60,77.24 970.72,78.10 969.38,78.53 968.05,78.53 966.72,78.10 966.28,77.67 965.83,76.81"/><path stroke="#fff" d="M994.28,71.22 995.17,70.79 996.50,69.50 996.50,78.53M1002.28,71.65 1002.28,71.22 1002.72,70.36 1003.16,69.93 1004.05,69.50 1005.83,69.50 1006.72,69.93 1007.16,70.36 1007.60,71.22 1007.60,72.08 1007.16,72.94 1006.27,74.23 1001.83,78.53 1008.05,78.53"/><path stroke="#fff" d="M1031.28,71.22 1032.17,70.79 1033.50,69.50 1033.50,78.53M1040.16,71.22 1041.05,70.79 1042.38,69.50 1042.38,78.53"/><path stroke="#fff" d="M1068.28,71.22 1069.17,70.79 1070.50,69.50 1070.50,78.53M1078.50,69.50 1077.16,69.93 1076.28,71.22 1075.83,73.37 1075.83,74.66 1076.28,76.81 1077.16,78.10 1078.50,78.53 1079.38,78.53 1080.72,78.10 1081.60,76.81 1082.05,74.66 1082.05,73.37 1081.60,71.22 1080.72,69.93 1079.38,69.50 1078.50,69.50"/><path stroke="#ff5500" d="M554.50,24.50 554.50,31.50M554.50,24.50 558.97,31.50M558.97,24.50 558.97,31.50M561.21,28.83 565.04,28.83 565.04,28.17 564.72,27.50 564.40,27.17 563.76,26.83 562.81,26.83 562.17,27.17 561.53,27.83 561.21,28.83 561.21,29.50 561.53,30.50 562.17,31.17 562.81,31.50 563.76,31.50 564.40,31.17 565.04,30.50M566.96,26.83 570.47,31.50M570.47,26.83 566.96,31.50M573.03,24.50 573.03,30.17 573.35,31.17 573.99,31.50 574.62,31.50M572.07,26.83 574.31,26.83M586.12,26.17 585.81,25.50 585.17,24.83 584.53,24.50 583.25,24.50 582.61,24.83 581.97,25.50 581.65,26.17 581.33,27.17 581.33,28.83 581.65,29.83 581.97,30.50 582.61,31.17 583.25,31.50 584.53,31.50 585.17,31.17 585.81,30.50 586.12,29.83M588.36,24.50 588.36,31.50M588.36,24.50 591.24,24.50 592.19,24.83 592.51,25.17 592.83,25.83 592.83,26.50 592.51,27.17 592.19,27.50 591.24,27.83 588.36,27.83M590.60,27.83 592.83,31.50M604.65,26.17 604.33,25.50 603.69,24.83 603.06,24.50 601.78,24.50 601.14,24.83 600.50,25.50 600.18,26.17 599.86,27.17 599.86,28.83 600.18,29.83 600.50,30.50 601.14,31.17 601.78,31.50 603.06,31.50 603.69,31.17 604.33,30.50 604.65,29.83M606.89,24.50 606.89,31.50M606.89,24.50 609.44,31.50M612.00,24.50 609.44,31.50M612.00,24.50 612.00,31.50M614.56,24.50 614.56,31.50M614.56,24.50 617.43,24.50 618.39,24.83 618.71,25.17 619.03,25.83 619.03,26.83 618.71,27.50 618.39,27.83 617.43,28.17 614.56,28.17M626.38,24.50 626.38,31.50M626.38,24.50 628.61,24.50 629.57,24.83 630.21,25.50 630.53,26.17 630.85,27.17 630.85,28.83 630.53,29.83 630.21,30.50 629.57,31.17 628.61,31.50 626.38,31.50M636.60,26.83 636.60,31.50M636.60,27.83 635.96,27.17 635.32,26.83 634.36,26.83 633.72,27.17 633.08,27.83 632.76,28.83 632.76,29.50 633.08,30.50 633.72,31.17 634.36,31.50 635.32,31.50 635.96,31.17 636.60,30.50M639.47,24.50 639.47,30.17 639.79,31.17 640.43,31.50 641.07,31.50M638.51,26.83 640.75,26.83M642.67,28.83 646.50,28.83 646.50,28.17 646.18,27.50 645.86,27.17 645.22,26.83 644.26,26.83 643.62,27.17 642.99,27.83 642.67,28.83 642.67,29.50 642.99,30.50 643.62,31.17 644.26,31.50 645.22,31.50 645.86,31.17 646.50,30.50"/><path stroke="#ff5500" d="M91.12,34.50 88.50,41.50M91.12,34.50 93.74,41.50M89.48,39.17 92.76,39.17M95.38,34.50 95.38,39.50 95.70,40.50 96.36,41.17 97.34,41.50 98.00,41.50 98.98,41.17 99.63,40.50 99.96,39.50 99.96,34.50M107.16,36.17 106.84,35.50 106.18,34.83 105.53,34.50 104.22,34.50 103.56,34.83 102.91,35.50 102.58,36.17 102.25,37.17 102.25,38.83 102.58,39.83 102.91,40.50 103.56,41.17 104.22,41.50 105.53,41.50 106.18,41.17 106.84,40.50 107.16,39.83 107.16,38.83M105.53,38.83 107.16,38.83M116.33,34.50 115.35,34.83 114.69,35.83 114.37,37.50 114.37,38.50 114.69,40.17 115.35,41.17 116.33,41.50 116.99,41.50 117.97,41.17 118.62,40.17 118.95,38.50 118.95,37.50 118.62,35.83 117.97,34.83 116.99,34.50 116.33,34.50M122.55,34.50 121.57,34.83 121.24,35.50 121.24,36.17 121.57,36.83 122.23,37.17 123.54,37.50 124.52,37.83 125.17,38.50 125.50,39.17 125.50,40.17 125.17,40.83 124.85,41.17 123.86,41.50 122.55,41.50 121.57,41.17 121.24,40.83 120.92,40.17 120.92,39.17 121.24,38.50 121.90,37.83 122.88,37.50 124.19,37.17 124.85,36.83 125.17,36.17 125.17,35.50 124.85,34.83 123.86,34.50 122.55,34.50"/><path stroke="#fff" d="M21.50,582.50 21.50,589.50M21.50,582.50 24.37,582.50 25.32,582.83 25.64,583.17 25.96,583.83 25.96,584.83 25.64,585.50 25.32,585.83 24.37,586.17 21.50,586.17M28.19,582.50 28.19,589.50M32.01,584.83 31.37,585.17 30.73,585.83 30.42,586.83 30.42,587.50 30.73,588.50 31.37,589.17 32.01,589.50 32.96,589.50 33.60,589.17 34.24,588.50 34.56,587.50 34.56,586.83 34.24,585.83 33.60,585.17 32.96,584.83 32.01,584.83M37.10,582.50 37.10,588.17 37.42,589.17 38.06,589.50 38.69,589.50M36.15,584.83 38.38,584.83M45.70,582.50 45.70,589.50M45.70,582.50 48.25,589.50M50.79,582.50 48.25,589.50M50.79,582.50 50.79,589.50M56.84,584.83 56.84,589.50M56.84,585.83 56.21,585.17 55.57,584.83 54.62,584.83 53.98,585.17 53.34,585.83 53.02,586.83 53.02,587.50 53.34,588.50 53.98,589.17 54.62,589.50 55.57,589.50 56.21,589.17 56.84,588.50M62.89,582.50 62.89,589.50M62.89,585.83 62.26,585.17 61.62,584.83 60.67,584.83 60.03,585.17 59.39,585.83 59.07,586.83 59.07,587.50 59.39,588.50 60.03,589.17 60.67,589.50 61.62,589.50 62.26,589.17 62.89,588.50M65.12,586.83 68.94,586.83 68.94,586.17 68.63,585.50 68.31,585.17 67.67,584.83 66.72,584.83 66.08,585.17 65.44,585.83 65.12,586.83 65.12,587.50 65.44,588.50 66.08,589.17 66.72,589.50 67.67,589.50 68.31,589.17 68.94,588.50M76.91,583.83 77.54,583.50 78.50,582.50 78.50,589.50M83.91,582.50 82.96,582.83 82.64,583.50 82.64,584.17 82.96,584.83 83.59,585.17 84.87,585.50 85.82,585.83 86.46,586.50 86.78,587.17 86.78,588.17 86.46,588.83 86.14,589.17 85.18,589.50 83.91,589.50 82.96,589.17 82.64,588.83 82.32,588.17 82.32,587.17 82.64,586.50 83.27,585.83 84.23,585.50 85.50,585.17 86.14,584.83 86.46,584.17 86.46,583.50 86.14,582.83 85.18,582.50 83.91,582.50M89.01,586.50 94.74,586.50M99.83,582.50 99.83,587.83 99.51,588.83 99.19,589.17 98.56,589.50 97.92,589.50 97.28,589.17 96.97,588.83 96.65,587.83 96.65,587.17M102.38,584.83 102.38,588.17 102.70,589.17 103.33,589.50 104.29,589.50 104.93,589.17 105.88,588.17M105.88,584.83 105.88,589.50M108.43,582.50 108.43,589.50M110.98,586.50 116.71,586.50M119.26,584.17 119.26,583.83 119.57,583.17 119.89,582.83 120.53,582.50 121.80,582.50 122.44,582.83 122.76,583.17 123.08,583.83 123.08,584.50 122.76,585.17 122.12,586.17 118.94,589.50 123.39,589.50M127.22,582.50 126.26,582.83 125.62,583.83 125.31,585.50 125.31,586.50 125.62,588.17 126.26,589.17 127.22,589.50 127.85,589.50 128.81,589.17 129.44,588.17 129.76,586.50 129.76,585.50 129.44,583.83 128.81,582.83 127.85,582.50 127.22,582.50M133.58,582.50 132.63,582.83 131.99,583.83 131.67,585.50 131.67,586.50 131.99,588.17 132.63,589.17 133.58,589.50 134.22,589.50 135.18,589.17 135.81,588.17 136.13,586.50 136.13,585.50 135.81,583.83 135.18,582.83 134.22,582.50 133.58,582.50M139.63,582.50 138.68,582.83 138.36,583.50 138.36,584.17 138.68,584.83 139.32,585.17 140.59,585.50 141.54,585.83 142.18,586.50 142.50,587.17 142.50,588.17 142.18,588.83 141.86,589.17 140.91,589.50 139.63,589.50 138.68,589.17 138.36,588.83 138.04,588.17 138.04,587.17 138.36,586.50 139.00,585.83 139.95,585.50 141.23,585.17 141.86,584.83 142.18,584.17 142.18,583.50 141.86,582.83 140.91,582.50 139.63,582.50"/><path stroke="#ff5500" d="M158.54,38.50 157.46,38.83 156.74,39.83 156.38,41.50 156.38,42.50 156.74,44.16 157.46,45.16 158.54,45.49 159.26,45.49 160.34,45.16 161.06,44.16 161.42,42.50 161.42,41.50 161.06,39.83 160.34,38.83 159.26,38.50 158.54,38.50M164.66,39.83 165.38,39.50 166.46,38.50 166.46,45.49"/><path stroke="#ff5500" d="M194.10,38.50 198.06,38.50 195.90,41.16 196.98,41.16 197.70,41.50 198.06,41.83 198.42,42.83 198.42,43.50 198.06,44.49 197.34,45.16 196.26,45.49 195.18,45.49 194.10,45.16 193.74,44.83 193.38,44.16M201.66,39.83 202.38,39.50 203.46,38.50 203.46,45.49"/><path stroke="#ff5500" d="M231.10,38.50 235.06,38.50 232.90,41.16 233.98,41.16 234.70,41.50 235.06,41.83 235.42,42.83 235.42,43.50 235.06,44.49 234.34,45.16 233.26,45.49 232.18,45.49 231.10,45.16 230.74,44.83 230.38,44.16M239.74,38.50 238.66,38.83 237.94,39.83 237.58,41.50 237.58,42.50 237.94,44.16 238.66,45.16 239.74,45.49 240.46,45.49 241.54,45.16 242.26,44.16 242.62,42.50 242.62,41.50 242.26,39.83 241.54,38.83 240.46,38.50 239.74,38.50"/><path stroke="#ff5500" d="M266.74,40.16 266.74,39.83 267.10,39.17 267.46,38.83 268.18,38.50 269.62,38.50 270.34,38.83 270.70,39.17 271.06,39.83 271.06,40.50 270.70,41.16 269.98,42.16 266.38,45.49 271.42,45.49M278.26,40.83 277.90,41.83 277.18,42.50 276.10,42.83 275.74,42.83 274.66,42.50 273.94,41.83 273.58,40.83 273.58,40.50 273.94,39.50 274.66,38.83 275.74,38.50 276.10,38.50 277.18,38.83 277.90,39.50 278.26,40.83 278.26,42.50 277.90,44.16 277.18,45.16 276.10,45.49 275.38,45.49 274.30,45.16 273.94,44.49"/><path stroke="#ff5500" d="M303.74,40.16 303.74,39.83 304.10,39.17 304.46,38.83 305.18,38.50 306.62,38.50 307.34,38.83 307.70,39.17 308.06,39.83 308.06,40.50 307.70,41.16 306.98,42.16 303.38,45.49 308.42,45.49M312.38,38.50 311.30,38.83 310.94,39.50 310.94,40.16 311.30,40.83 312.02,41.16 313.46,41.50 314.54,41.83 315.26,42.50 315.62,43.16 315.62,44.16 315.26,44.83 314.90,45.16 313.82,45.49 312.38,45.49 311.30,45.16 310.94,44.83 310.58,44.16 310.58,43.16 310.94,42.50 311.66,41.83 312.74,41.50 314.18,41.16 314.90,40.83 315.26,40.16 315.26,39.50 314.90,38.83 313.82,38.50 312.38,38.50"/><path stroke="#ff5500" d="M340.74,40.16 340.74,39.83 341.10,39.17 341.46,38.83 342.18,38.50 343.62,38.50 344.34,38.83 344.70,39.17 345.06,39.83 345.06,40.50 344.70,41.16 343.98,42.16 340.38,45.49 345.42,45.49M352.62,38.50 349.02,45.49M347.58,38.50 352.62,38.50"/><path stroke="#ff5500" d="M377.74,40.16 377.74,39.83 378.10,39.17 378.46,38.83 379.18,38.50 380.62,38.50 381.34,38.83 381.70,39.17 382.06,39.83 382.06,40.50 381.70,41.16 380.98,42.16 377.38,45.49 382.42,45.49M389.26,39.50 388.90,38.83 387.82,38.50 387.10,38.50 386.02,38.83 385.30,39.83 384.94,41.50 384.94,43.16 385.30,44.49 386.02,45.16 387.10,45.49 387.46,45.49 388.54,45.16 389.26,44.49 389.62,43.50 389.62,43.16 389.26,42.16 388.54,41.50 387.46,41.16 387.10,41.16 386.02,41.50 385.30,42.16 384.94,43.16"/><path stroke="#ff5500" d="M413.74,40.16 413.74,39.83 414.10,39.17 414.46,38.83 415.18,38.50 416.62,38.50 417.34,38.83 417.70,39.17 418.06,39.83 418.06,40.50 417.70,41.16 416.98,42.16 413.38,45.49 418.42,45.49M424.90,38.50 421.30,38.50 420.94,41.50 421.30,41.16 422.38,40.83 423.46,40.83 424.54,41.16 425.26,41.83 425.62,42.83 425.62,43.50 425.26,44.49 424.54,45.16 423.46,45.49 422.38,45.49 421.30,45.16 420.94,44.83 420.58,44.16"/><path stroke="#ff5500" d="M450.74,40.16 450.74,39.83 451.10,39.17 451.46,38.83 452.18,38.50 453.62,38.50 454.34,38.83 454.70,39.17 455.06,39.83 455.06,40.50 454.70,41.16 453.98,42.16 450.38,45.49 455.42,45.49M461.18,38.50 457.58,43.16 462.98,43.16M461.18,38.50 461.18,45.49"/><path stroke="#ff5500" d="M487.74,40.16 487.74,39.83 488.10,39.17 488.46,38.83 489.18,38.50 490.62,38.50 491.34,38.83 491.70,39.17 492.06,39.83 492.06,40.50 491.70,41.16 490.98,42.16 487.38,45.49 492.42,45.49M495.30,38.50 499.26,38.50 497.10,41.16 498.18,41.16 498.90,41.50 499.26,41.83 499.62,42.83 499.62,43.50 499.26,44.49 498.54,45.16 497.46,45.49 496.38,45.49 495.30,45.16 494.94,44.83 494.58,44.16"/><path stroke="#ff5500" d="M524.74,40.16 524.74,39.83 525.10,39.17 525.46,38.83 526.18,38.50 527.62,38.50 528.34,38.83 528.70,39.17 529.06,39.83 529.06,40.50 528.70,41.16 527.98,42.16 524.38,45.49 529.42,45.49M531.94,40.16 531.94,39.83 532.30,39.17 532.66,38.83 533.38,38.50 534.82,38.50 535.54,38.83 535.90,39.17 536.26,39.83 536.26,40.50 535.90,41.16 535.18,42.16 531.58,45.49 536.62,45.49"/><path stroke="#ff5500" d="M560.74,40.16 560.74,39.83 561.10,39.17 561.46,38.83 562.18,38.50 563.62,38.50 564.34,38.83 564.70,39.17 565.06,39.83 565.06,40.50 564.70,41.16 563.98,42.16 560.38,45.49 565.42,45.49M568.66,39.83 569.38,39.50 570.46,38.50 570.46,45.49"/><path stroke="#ff5500" d="M597.74,40.16 597.74,39.83 598.10,39.17 598.46,38.83 599.18,38.50 600.62,38.50 601.34,38.83 601.70,39.17 602.06,39.83 602.06,40.50 601.70,41.16 600.98,42.16 597.38,45.49 602.42,45.49M606.74,38.50 605.66,38.83 604.94,39.83 604.58,41.50 604.58,42.50 604.94,44.16 605.66,45.16 606.74,45.49 607.46,45.49 608.54,45.16 609.26,44.16 609.62,42.50 609.62,41.50 609.26,39.83 608.54,38.83 607.46,38.50 606.74,38.50"/><path stroke="#ff5500" d="M635.46,39.83 636.18,39.50 637.26,38.50 637.26,45.49M646.26,40.83 645.90,41.83 645.18,42.50 644.10,42.83 643.74,42.83 642.66,42.50 641.94,41.83 641.58,40.83 641.58,40.50 641.94,39.50 642.66,38.83 643.74,38.50 644.10,38.50 645.18,38.83 645.90,39.50 646.26,40.83 646.26,42.50 645.90,44.16 645.18,45.16 644.10,45.49 643.38,45.49 642.30,45.16 641.94,44.49"/><path stroke="#ff5500" d="M672.46,39.83 673.18,39.50 674.26,38.50 674.26,45.49M680.38,38.50 679.30,38.83 678.94,39.50 678.94,40.16 679.30,40.83 680.02,41.16 681.46,41.50 682.54,41.83 683.26,42.50 683.62,43.16 683.62,44.16 683.26,44.83 682.90,45.16 681.82,45.49 680.38,45.49 679.30,45.16 678.94,44.83 678.58,44.16 678.58,43.16 678.94,42.50 679.66,41.83 680.74,41.50 682.18,41.16 682.90,40.83 683.26,40.16 683.26,39.50 682.90,38.83 681.82,38.50 680.38,38.50"/><path stroke="#ff5500" d="M708.46,39.83 709.18,39.50 710.26,38.50 710.26,45.49M719.62,38.50 716.02,45.49M714.58,38.50 719.62,38.50"/><path stroke="#ff5500" d="M745.46,39.83 746.18,39.50 747.26,38.50 747.26,45.49M756.26,39.50 755.90,38.83 754.82,38.50 754.10,38.50 753.02,38.83 752.30,39.83 751.94,41.50 751.94,43.16 752.30,44.49 753.02,45.16 754.10,45.49 754.46,45.49 755.54,45.16 756.26,44.49 756.62,43.50 756.62,43.16 756.26,42.16 755.54,41.50 754.46,41.16 754.10,41.16 753.02,41.50 752.30,42.16 751.94,43.16"/><path stroke="#ff5500" d="M782.46,39.83 783.18,39.50 784.26,38.50 784.26,45.49M792.90,38.50 789.30,38.50 788.94,41.50 789.30,41.16 790.38,40.83 791.46,40.83 792.54,41.16 793.26,41.83 793.62,42.83 793.62,43.50 793.26,44.49 792.54,45.16 791.46,45.49 790.38,45.49 789.30,45.16 788.94,44.83 788.58,44.16"/><path stroke="#ff5500" d="M819.46,39.83 820.18,39.50 821.26,38.50 821.26,45.49M829.18,38.50 825.58,43.16 830.98,43.16M829.18,38.50 829.18,45.49"/><path stroke="#ff5500" d="M856.46,39.83 857.18,39.50 858.26,38.50 858.26,45.49M863.30,38.50 867.26,38.50 865.10,41.16 866.18,41.16 866.90,41.50 867.26,41.83 867.62,42.83 867.62,43.50 867.26,44.49 866.54,45.16 865.46,45.49 864.38,45.49 863.30,45.16 862.94,44.83 862.58,44.16"/><path stroke="#ff5500" d="M892.46,39.83 893.18,39.50 894.26,38.50 894.26,45.49M898.94,40.16 898.94,39.83 899.30,39.17 899.66,38.83 900.38,38.50 901.82,38.50 902.54,38.83 902.90,39.17 903.26,39.83 903.26,40.50 902.90,41.16 902.18,42.16 898.58,45.49 903.62,45.49"/><path stroke="#ff5500" d="M929.46,39.83 930.18,39.50 931.26,38.50 931.26,45.49M936.66,39.83 937.38,39.50 938.46,38.50 938.46,45.49"/><path stroke="#ff5500" d="M966.46,39.83 967.18,39.50 968.26,38.50 968.26,45.49M974.74,38.50 973.66,38.83 972.94,39.83 972.58,41.50 972.58,42.50 972.94,44.16 973.66,45.16 974.74,45.49 975.46,45.49 976.54,45.16 977.26,44.16 977.62,42.50 977.62,41.50 977.26,39.83 976.54,38.83 975.46,38.50 974.74,38.50"/><path stroke="#ff5500" d="M1004.54,38.50 1003.46,38.83 1002.74,39.83 1002.38,41.50 1002.38,42.50 1002.74,44.16 1003.46,45.16 1004.54,45.49 1005.26,45.49 1006.34,45.16 1007.06,44.16 1007.42,42.50 1007.42,41.50 1007.06,39.83 1006.34,38.83 1005.26,38.50 1004.54,38.50M1014.26,40.83 1013.90,41.83 1013.18,42.50 1012.10,42.83 1011.74,42.83 1010.66,42.50 1009.94,41.83 1009.58,40.83 1009.58,40.50 1009.94,39.50 1010.66,38.83 1011.74,38.50 1012.10,38.50 1013.18,38.83 1013.90,39.50 1014.26,40.83 1014.26,42.50 1013.90,44.16 1013.18,45.16 1012.10,45.49 1011.38,45.49 1010.30,45.16 1009.94,44.49"/><path stroke="#ff5500" d="M1040.54,38.50 1039.46,38.83 1038.74,39.83 1038.38,41.50 1038.38,42.50 1038.74,44.16 1039.46,45.16 1040.54,45.49 1041.26,45.49 1042.34,45.16 1043.06,44.16 1043.42,42.50 1043.42,41.50 1043.06,39.83 1042.34,38.83 1041.26,38.50 1040.54,38.50M1047.38,38.50 1046.30,38.83 1045.94,39.50 1045.94,40.16 1046.30,40.83 1047.02,41.16 1048.46,41.50 1049.54,41.83 1050.26,42.50 1050.62,43.16 1050.62,44.16 1050.26,44.83 1049.90,45.16 1048.82,45.49 1047.38,45.49 1046.30,45.16 1045.94,44.83 1045.58,44.16 1045.58,43.16 1045.94,42.50 1046.66,41.83 1047.74,41.50 1049.18,41.16 1049.90,40.83 1050.26,40.16 1050.26,39.50 1049.90,38.83 1048.82,38.50 1047.38,38.50"/><path stroke="#ff5500" d="M1077.54,38.50 1076.46,38.83 1075.74,39.83 1075.38,41.50 1075.38,42.50 1075.74,44.16 1076.46,45.16 1077.54,45.49 1078.26,45.49 1079.34,45.16 1080.06,44.16 1080.42,42.50 1080.42,41.50 1080.06,39.83 1079.34,38.83 1078.26,38.50 1077.54,38.50M1087.62,38.50 1084.02,45.49M1082.58,38.50 1087.62,38.50"/></g></svg>
<script>var CRX=1,CRY=2;
(function(){
var cv=document.getElementById('cv');var ctx=cv.getContext('2d');
var w=cv.width,h=cv.height;var img=ctx.createImageData(w,h);var d=img.data;
var s=2463534242;function rnd(){s^=s<<13;s^=s>>>17;s^=s<<5;return (s>>>0)/4294967296;}
function gauss(){var u=rnd()||1e-9,v=rnd();return Math.sqrt(-2*Math.log(u))*Math.cos(6.2831853*v);}
var n=new Float32Array(w*h);for(var i=0;i<w*h;i++)n[i]=gauss();
var cn=new Float32Array(w*h);for(var i=0;i<w*h;i++)cn[i]=gauss();
function boxH(src,dst,r){var pr=new Float32Array(w+1);for(var y=0;y<h;y++){pr[0]=0;for(var x=0;x<w;x++)pr[x+1]=pr[x]+src[y*w+x];for(var x=0;x<w;x++){var a0=Math.max(0,x-r),a1=Math.min(w,x+r+1);dst[y*w+x]=(pr[a1]-pr[a0])/(a1-a0);}}}
function boxV(src,dst,r){var pr=new Float32Array(h+1);for(var x=0;x<w;x++){pr[0]=0;for(var y=0;y<h;y++)pr[y+1]=pr[y]+src[y*w+x];for(var y=0;y<h;y++){var a0=Math.max(0,y-r),a1=Math.min(h,y+r+1);dst[y*w+x]=(pr[a1]-pr[a0])/(a1-a0);}}}
var t1=new Float32Array(w*h);boxH(cn,t1,CRX);boxV(t1,cn,CRY);boxH(cn,t1,CRX);boxV(t1,cn,CRY);
var sd=0;for(var i=0;i<w*h;i++)sd+=cn[i]*cn[i];sd=Math.sqrt(sd/(w*h));for(var i=0;i<w*h;i++)cn[i]/=sd;
var m=new Float32Array(w*h);
var pre=new Float32Array(w+1);
for(var y=0;y<h;y++){
 var k=Math.round(1+2.2*Math.exp(-(406-y)/30)); var hr=(k-1)>>1;
 var vy=y<150?0.28*Math.min(1,Math.max(0,(y-25)/50)):Math.max(0.06,0.28-(y-150)/100*0.22), hx=0.08;
 var nrm=Math.sqrt(1+2*vy*vy+2*hx*hx);
 var cc=y<60?0.25*Math.max(0,(y-25)/35):(y<200?0.25:0.25-0.05*Math.min(1,(y-200)/150));var CF1=cc,CF0=Math.sqrt(1-cc*cc);
 var tmp=new Float32Array(w);
 for(var x=0;x<w;x++){
  var a=n[y*w+x], l=n[y*w+Math.max(0,x-1)], r=n[y*w+Math.min(w-1,x+1)];
  var u=(y>0&&x<w-1)?n[(y-1)*w+x+1]:a, dn=(y<h-1&&x>0)?n[(y+1)*w+x-1]:a;
  var u2=y>0?n[(y-1)*w+x]:a, d2=y<h-1?n[(y+1)*w+x]:a;
  tmp[x]=(a+hx*(l+r)+0.55*vy*(u+dn)+0.45*vy*(u2+d2))/nrm*CF0+cn[y*w+x]*CF1;
 }
 var LL=9*Math.exp(-y/26);
 if(y<120&&LL>0.7){var J=Math.ceil(LL);
  for(var x=0;x<w;x++){var sl=0.22*Math.sin(x/31+Math.sin(x/97)*1.6)+0.08*Math.sin(x/13.7);var acc=0,ws=0;
   for(var j=-J;j<=J;j++){var wt=1-Math.abs(j)/(LL+1);if(wt<=0)continue;var xx=x+j;if(xx<0||xx>=w)continue;var yy=y+Math.round(j*sl);if(yy<0)yy=0;if(yy>=h)yy=h-1;acc+=wt*n[yy*w+xx];ws+=wt*wt;}
   var dir=acc/Math.sqrt(ws);var bl=Math.min(1,(LL-0.7)/1.5);
   m[y*w+x]=(dir*bl+tmp[x]*(1-bl));}
 } else if(hr>0){pre[0]=0;for(var x=0;x<w;x++)pre[x+1]=pre[x]+tmp[x];
  for(var x=0;x<w;x++){var x0=Math.max(0,x-hr),x1=Math.min(w,x+hr+1);m[y*w+x]=(pre[x1]-pre[x0])/Math.sqrt(x1-x0);}
 } else {for(var x=0;x<w;x++)m[y*w+x]=tmp[x];}
 var ss=0,mu=0;for(var x=0;x<w;x++){mu+=m[y*w+x];}mu/=w;for(var x=0;x<w;x++){var q=m[y*w+x]-mu;ss+=q*q;}ss=Math.sqrt(ss/w);for(var x=0;x<w;x++)m[y*w+x]=(m[y*w+x]-mu)/ss;
}
var pal=[[28,16,180],[150,0,10],[240,12,0],[255,145,45],[212,180,38],[250,240,70],[255,255,230]];
function qnorm(p){
 var a=[-39.6968302866538,220.946098424521,-275.928510446969,138.357751867269,-30.6647980661472,2.50662827745924],
 b=[-54.4760987982241,161.585836858041,-155.698979859887,66.8013118877197,-13.2806815528857],
 c=[-7.78489400243029e-3,-0.322396458041136,-2.40075827716184,-2.54973253934373,4.37466414146497,2.93816398269878],
 dd=[7.78469570904146e-3,0.32246712907004,2.445134137143,3.75440866190742];
 var q,r;if(p<0.02425){q=Math.sqrt(-2*Math.log(p));return (((((c[0]*q+c[1])*q+c[2])*q+c[3])*q+c[4])*q+c[5])/((((dd[0]*q+dd[1])*q+dd[2])*q+dd[3])*q+1);}
 if(p>1-0.02425){q=Math.sqrt(-2*Math.log(1-p));return -(((((c[0]*q+c[1])*q+c[2])*q+c[3])*q+c[4])*q+c[5])/((((dd[0]*q+dd[1])*q+dd[2])*q+dd[3])*q+1);}
 q=p-0.5;r=q*q;return (((((a[0]*r+a[1])*r+a[2])*r+a[3])*r+a[4])*r+a[5])*q/(((((b[0]*r+b[1])*r+b[2])*r+b[3])*r+b[4])*r+1);}
function thr(p){var t=[],c=0;for(var i=0;i<p.length-1;i++){c+=p[i];t.push(qnorm(c));}return t;}
var P0=[0.05,0.12,0.28,0.42,0.10,0.025,0.005]; // top
var P1=[0.06,0.10,0.26,0.44,0.11,0.025,0.005]; // mid
var P2=[0.025,0.085,0.30,0.48,0.09,0.016,0.004]; // low
function mix(A,B,t){var o=[];for(var i=0;i<7;i++)o.push(A[i]*(1-t)+B[i]*t);return o;}
var TH=[];for(var y=0;y<h;y++){var P;if(y<50)P=mix(P0,P1,y/50);else if(y<220)P=P1;else P=mix(P1,P2,Math.min(1,(y-220)/150));TH.push(thr(P));}
var R=new Float32Array(w*h),G=new Float32Array(w*h),Bc=new Float32Array(w*h);
for(var y=0;y<h;y++){var T=TH[y];for(var x=0;x<w;x++){var k=y*w+x;var v=m[k];var i=0;while(i<6&&v>T[i])i++;var c=pal[i];R[k]=c[0];G[k]=c[1];Bc[k]=c[2];}}

for(var y=0;y<h;y++){for(var x=0;x<w;x++){var k=y*w+x,o=k*4;
 var kl=x>0?k-1:k,kr=x<w-1?k+1:k,ku=y>0?k-w:k,kd=y<h-1?k+w:k;
 d[o]=0.56*R[k]+0.11*(R[kl]+R[kr]+R[ku]+R[kd]);
 d[o+1]=0.56*G[k]+0.11*(G[kl]+G[kr]+G[ku]+G[kd]);
 d[o+2]=0.56*Bc[k]+0.11*(Bc[kl]+Bc[kr]+Bc[ku]+Bc[kd]);
 d[o+3]=255;}}
for(var x=0;x<w;x++){var X=x+101;var lim=X<610?405:(X<988?406:407);for(var y=lim+1;y<h;y++){var o=(y*w+x)*4;d[o]=0;d[o+1]=0;d[o+2]=0;}}
ctx.putImageData(img,0,0);
})();
</script>
</body></html>
